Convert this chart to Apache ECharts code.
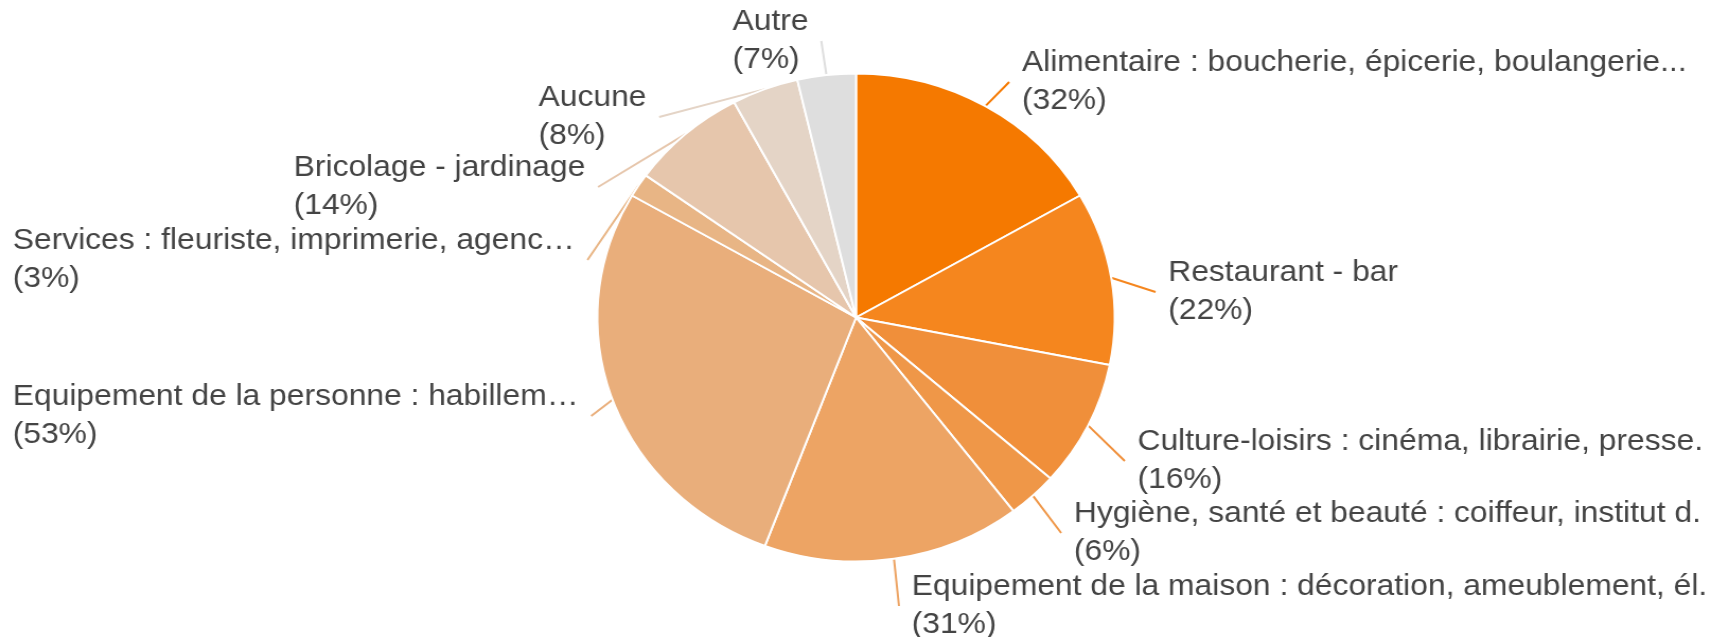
<!DOCTYPE html>
<html>
<head>
<meta charset="utf-8">
<script src="https://cdn.jsdelivr.net/npm/echarts@6/dist/echarts.min.js"></script>
<style>
    html, body { margin: 0; padding: 0; background: #fff; overflow: hidden; }
    /* the original picture is slightly wider than tall: stretch the chart horizontally */
    #main { width: 1613px; height: 637px; transform: scaleX(1.0601); transform-origin: 0 0; }
</style>
</head>
<body>
<div id="main"></div>
<script>
    // categories (reading clockwise from top)
    var categories = [
        'Alimentaire : boucherie, épicerie, boulangerie...',
        'Restaurant - bar',
        'Culture-loisirs : cinéma, librairie, presse.',
        'Hygiène, santé et beauté : coiffeur, institut d.',
        'Equipement de la maison : décoration, ameublement, él.',
        'Equipement de la personne : habillem…',
        'Services : fleuriste, imprimerie, agenc…',
        'Bricolage - jardinage',
        'Aucune',
        'Autre'
    ];
    // % des répondants
    var percents = [32, 22, 16, 6, 31, 53, 3, 14, 8, 7];

    var colors = ['#F57900', '#F5861E', '#F08F3A', '#EF9748', '#EDA464',
                  '#E9AE7B', '#E8B585', '#E6C6AC', '#E4D4C6', '#DEDEDE'];
    // label block: left x, middle y (chart coords, before stretch)
    var labelPos = [
        [964, 82], [1102, 292], [1073, 461], [1013, 533], [860, 606],
        [12, 416], [12, 260], [277, 187], [508, 117], [691, 41]
    ];
    var gap = 12; // space between label line and text

    var pieData = [];
    for (var i = 0; i < categories.length; i++) {
        pieData.push({
            name: categories[i],
            value: percents[i],
            itemStyle: { color: colors[i] },
            labelLine: { lineStyle: { color: colors[i] } }
        });
    }

    var myChart = echarts.init(document.getElementById('main'), null, { renderer: 'canvas' });
    var option = {
        animation: false,
        series: [{
            type: 'pie',
            center: [807.5, 317.5],
            radius: 244,
            startAngle: 90,
            clockwise: true,
            avoidLabelOverlap: false,
            itemStyle: { borderColor: '#fff', borderWidth: 2 },
            label: {
                show: true,
                position: 'outside',
                formatter: '{b}\n({c}%)',
                fontFamily: 'Liberation Sans, Arial, sans-serif',
                fontSize: 30,
                lineHeight: 38,
                color: '#444',
                align: 'left',
                padding: [0, gap, 0, gap]
            },
            labelLine: { show: true, length: 12, length2: 0, lineStyle: { width: 2 } },
            labelLayout: function (params) {
                var p = labelPos[params.dataIndex];
                return { x: p[0] - gap, y: p[1], align: 'left', verticalAlign: 'middle' };
            },
            emphasis: { disabled: true },
            data: pieData
        }]
    };
    myChart.setOption(option);
</script>
</body>
</html>
